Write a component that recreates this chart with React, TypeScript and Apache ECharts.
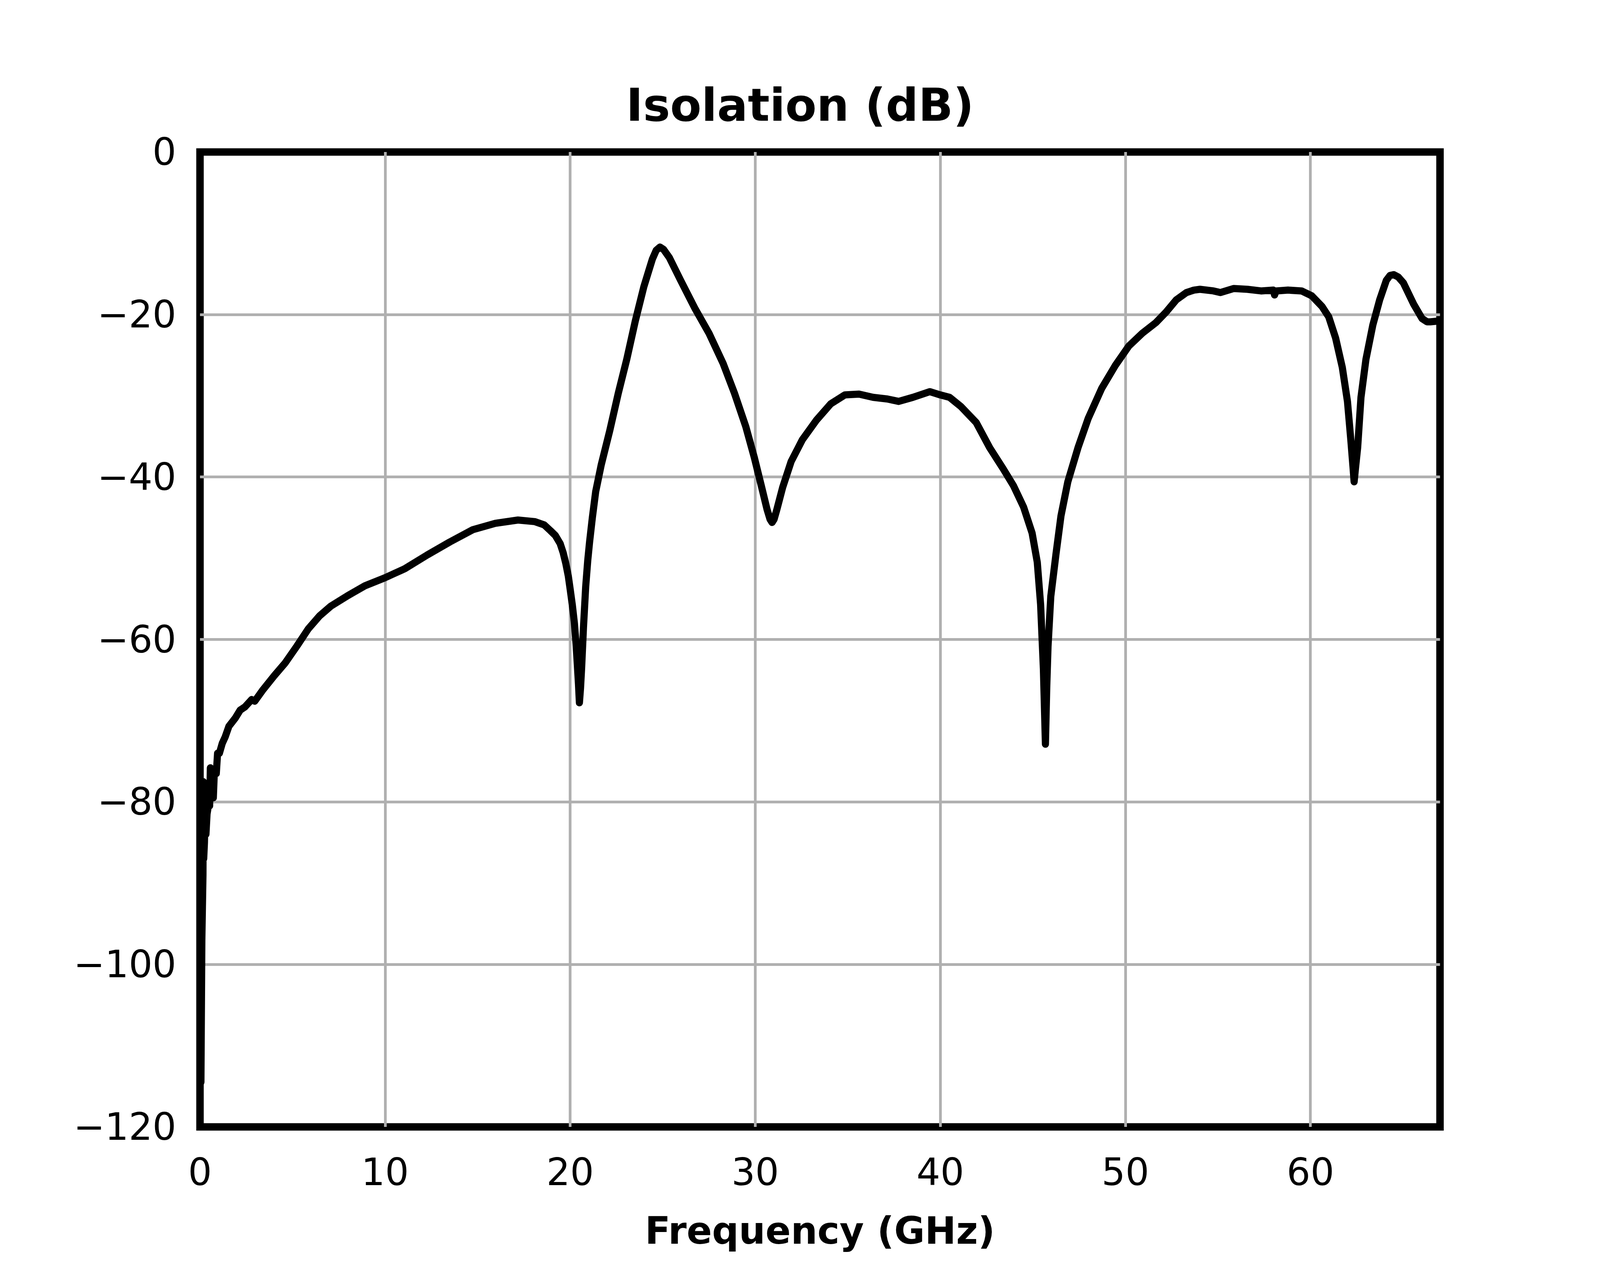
import React, { useEffect, useRef, useState } from "react";
import * as echarts from "echarts";

const freqGHz: number[] = [
  0.05, 0.08, 0.1, 0.13, 0.16, 0.18, 0.2, 0.24, 0.28, 0.32, 0.38, 0.45, 0.52, 0.56, 0.65, 0.72, 0.78, 0.88, 0.95,
  1.05, 1.2, 1.36, 1.56, 1.9, 2.17, 2.43, 2.79, 2.96, 3.4, 4.0, 4.6, 5.24, 5.85, 6.46, 7.07, 7.99, 8.91,
  10.0, 11.06, 12.28, 13.5, 14.73, 15.96, 17.18, 18.1, 18.6, 18.93, 19.2, 19.46, 19.62, 19.77, 19.9, 20.0, 20.12,
  20.23, 20.32, 20.38, 20.45, 20.5, 20.56, 20.62, 20.72, 20.84, 20.95, 21.05, 21.2, 21.38, 21.68, 22.14, 22.6,
  23.06, 23.52, 23.98, 24.25, 24.44, 24.65, 24.85, 25.05, 25.36, 25.97, 26.73, 27.5, 28.26, 28.88, 29.49, 29.95,
  30.33, 30.64, 30.8, 30.91, 31.02, 31.17, 31.48, 31.94, 32.55, 33.31, 34.08, 34.84, 35.61, 36.37, 37.14, 37.75,
  38.52, 39.43, 40.0, 40.5, 41.1, 41.94, 42.67, 43.4, 43.96, 44.5, 44.96, 45.24, 45.42, 45.57, 45.68, 45.75,
  45.82, 45.97, 46.25, 46.52, 46.89, 47.44, 47.99, 48.72, 49.45, 50.18, 50.92, 51.65, 52.2, 52.75, 53.3, 53.7,
  54.03, 54.76, 55.13, 55.86, 56.59, 57.33, 58.0, 58.06, 58.15, 58.79, 59.52, 60.07, 60.62, 60.99, 61.36, 61.72,
  62.0, 62.18, 62.3, 62.36, 62.43, 62.55, 62.73, 63.0, 63.37, 63.74, 64.1, 64.3, 64.5, 64.75, 65.02, 65.57, 66.03,
  66.3, 66.48, 66.95,
];

const isolationDb: number[] = [
  -114.5, -104, -97, -93, -89, -77.5, -87, -85, -80.5, -84, -81.5, -80.5, -80.5, -75.8, -77, -79.5, -76, -76.5, -74,
  -74, -72.8, -72, -70.7, -69.7, -68.7, -68.3, -67.4, -67.6, -66.2, -64.5, -62.9, -60.8, -58.7, -57.1, -55.9, -54.6, -53.4,
  -52.4, -51.3, -49.6, -48.0, -46.5, -45.7, -45.3, -45.5, -45.9, -46.6, -47.2, -48.2, -49.3, -50.7, -52.2, -53.8, -55.8,
  -58.0, -60.6, -62.8, -65.5, -67.8, -66.0, -63.5, -58.5, -53.5, -50.3, -48.0, -45.0, -41.8, -38.5, -34.3, -29.7,
  -25.5, -20.8, -16.6, -14.6, -13.2, -12.1, -11.7, -12.0, -13.0, -15.8, -19.2, -22.3, -26.0, -29.7, -33.8, -37.6,
  -41.1, -44.0, -45.2, -45.6, -45.2, -44.0, -41.3, -38.1, -35.4, -33.0, -31.0, -29.9, -29.8, -30.2, -30.4, -30.7,
  -30.2, -29.5, -29.9, -30.2, -31.3, -33.3, -36.4, -39.0, -41.1, -43.7, -46.9, -50.5, -55.7, -63.6, -72.9, -66.0,
  -60.9, -54.7, -49.5, -44.8, -40.6, -36.4, -32.8, -29.1, -26.3, -23.9, -22.3, -21.0, -19.7, -18.2, -17.3, -17.0,
  -16.9, -17.1, -17.3, -16.8, -16.9, -17.1, -17.0, -17.6, -17.1, -17.0, -17.1, -17.7, -19.0, -20.3, -22.9, -26.5,
  -30.7, -35.4, -38.8, -40.6, -39.0, -36.4, -30.2, -25.5, -21.3, -18.2, -15.8, -15.2, -15.1, -15.4, -16.1, -18.7, -20.5,
  -20.9, -20.9, -20.8,
];

const xTicks: number[] = [0, 10, 20, 30, 40, 50, 60];
const yTicks: number[] = [0, -20, -40, -60, -80, -100, -120];

const titleText = "Isolation (dB)";
const xAxisName = "Frequency (GHz)";

const FONT = "DejaVu Sans";
const GRID_COLOR = "#b0b0b0";
const REF_W = 5400;
const REF_H = 3240;

export default function App() {
  const ref = useRef<HTMLDivElement>(null);
  const [size] = useState(() => ({
    w: typeof window !== "undefined" ? window.innerWidth : REF_W,
    h: typeof window !== "undefined" ? window.innerHeight : REF_H,
  }));

  useEffect(() => {
    document.body.style.margin = "0";
    document.body.style.overflow = "hidden";
    if (!ref.current) return;
    const chart = echarts.init(ref.current, undefined, { renderer: "svg" });
    const data = freqGHz.map((f, i) => [f, isolationDb[i]]);
    const kx = size.w / REF_W;
    const ky = size.h / REF_H;
    const kf = Math.sqrt(kx * ky);
    const sx = (v: number) => v * kx;
    const sy = (v: number) => v * ky;
    const sf = (v: number) => v * kf;
    const xSplitColors = xTicks.map((v) => (v === 0 ? "rgba(0,0,0,0)" : GRID_COLOR));
    const ySplitColors = [...yTicks]
      .sort((a, b) => a - b)
      .map((v) => (v === -120 || v === 0 ? "rgba(0,0,0,0)" : GRID_COLOR));
    chart.setOption({
      animation: false,
      backgroundColor: "#ffffff",
      title: {
        text: titleText,
        left: "center",
        top: sy(210),
        padding: 0,
        textStyle: { fontFamily: FONT, fontSize: sf(134), fontWeight: "bold", color: "#000" },
      },
      grid: {
        left: sx(675),
        right: sx(540),
        top: sy(389),
        bottom: sy(356),
        show: true,
        borderColor: "#000",
        borderWidth: sf(22),
        backgroundColor: "transparent",
      },
      xAxis: {
        type: "value",
        min: 0,
        max: 67,
        interval: 10,
        name: xAxisName,
        nameLocation: "middle",
        nameGap: sy(218),
        nameTextStyle: { fontFamily: FONT, fontSize: sf(110), fontWeight: "bold", color: "#000" },
        axisLine: { show: false },
        axisTick: { show: false },
        axisLabel: {
          fontFamily: FONT,
          fontSize: sf(110),
          color: "#000",
          margin: sy(68),
          showMaxLabel: false,
          formatter: (v: number) => (xTicks.includes(v) ? String(v) : ""),
        },
        splitLine: { show: true, lineStyle: { color: xSplitColors, width: sf(8) } },
      },
      yAxis: {
        type: "value",
        min: -120,
        max: 0,
        interval: 20,
        axisLine: { show: false },
        axisTick: { show: false },
        axisLabel: {
          fontFamily: FONT,
          fontSize: sf(110),
          color: "#000",
          margin: sx(80),
          formatter: (v: number) =>
            yTicks.includes(v) ? (v < 0 ? "\u2212" + Math.abs(v) : String(v)) : "",
        },
        splitLine: { show: true, lineStyle: { color: ySplitColors, width: sf(8) } },
      },
      series: [
        {
          type: "line",
          data,
          showSymbol: false,
          smooth: false,
          lineStyle: { color: "#000", width: sf(21), cap: "round", join: "round" },
          z: 3,
        },
      ],
    });
    return () => chart.dispose();
  }, [size]);

  return <div ref={ref} style={{ width: size.w, height: size.h }} />;
}
